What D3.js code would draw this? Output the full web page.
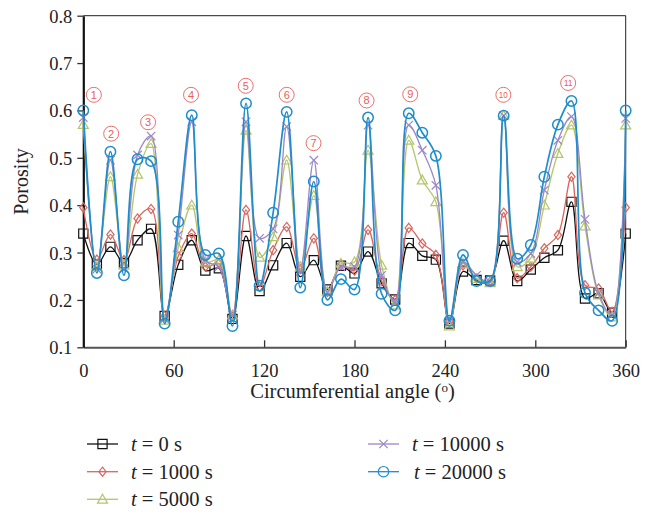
<!DOCTYPE html>
<meta charset="utf-8">
<style>
body { margin: 0; background: #fff; }
svg { font-family: "Liberation Serif", "DejaVu Serif", serif; }
</style>
<body>
<svg width="658" height="512"></svg>
<script src="https://cdn.jsdelivr.net/npm/d3@7"></script>
<script>
// circumferential angles (deg)
var angles = [0, 9, 18, 27, 36, 45, 54, 63, 72, 81, 90, 99, 108, 117, 126, 135, 144, 153, 162, 171,
  180, 189, 198, 207, 216, 225, 234, 243, 252, 261, 270, 279, 288, 297, 306, 315, 324, 333, 342, 351, 360];

var t0 = [0.34, 0.275, 0.312, 0.278, 0.326, 0.35, 0.166, 0.274, 0.326, 0.262, 0.267, 0.16, 0.335, 0.219,
  0.273, 0.32, 0.249, 0.284, 0.222, 0.272, 0.256, 0.302, 0.235, 0.201, 0.32, 0.293, 0.285, 0.15, 0.26,
  0.242, 0.241, 0.325, 0.24, 0.264, 0.289, 0.305, 0.407, 0.203, 0.214, 0.173, 0.34];
var t1000 = [0.395, 0.285, 0.338, 0.284, 0.372, 0.392, 0.166, 0.292, 0.34, 0.27, 0.277, 0.165, 0.39, 0.228,
  0.305, 0.354, 0.265, 0.33, 0.217, 0.273, 0.262, 0.348, 0.24, 0.2, 0.352, 0.319, 0.295, 0.154, 0.273,
  0.245, 0.238, 0.384, 0.246, 0.27, 0.309, 0.337, 0.46, 0.231, 0.224, 0.175, 0.395];
var t5000 = [0.57, 0.27, 0.46, 0.273, 0.465, 0.53, 0.157, 0.31, 0.40, 0.28, 0.284, 0.168, 0.558, 0.29,
  0.333, 0.495, 0.27, 0.42, 0.217, 0.277, 0.28, 0.516, 0.273, 0.189, 0.537, 0.453, 0.407, 0.145, 0.277,
  0.245, 0.236, 0.589, 0.27, 0.288, 0.40, 0.509, 0.569, 0.356, 0.21, 0.164, 0.569];
var t10000 = [0.585, 0.265, 0.495, 0.266, 0.506, 0.546, 0.16, 0.337, 0.576, 0.284, 0.27, 0.168, 0.576, 0.33,
  0.35, 0.566, 0.26, 0.495, 0.217, 0.27, 0.27, 0.569, 0.252, 0.196, 0.569, 0.516, 0.442, 0.155, 0.28,
  0.252, 0.238, 0.589, 0.28, 0.298, 0.432, 0.537, 0.587, 0.37, 0.214, 0.168, 0.583];
var t20000 = [0.60, 0.257, 0.513, 0.252, 0.497, 0.493, 0.15, 0.365, 0.59, 0.295, 0.298, 0.145, 0.615, 0.23,
  0.384, 0.597, 0.226, 0.45, 0.2, 0.244, 0.222, 0.585, 0.213, 0.178, 0.594, 0.553, 0.504, 0.156, 0.295,
  0.24, 0.24, 0.589, 0.287, 0.316, 0.46, 0.57, 0.62, 0.215, 0.178, 0.156, 0.60];

var seriesNames = ["0", "1000", "5000", "10000", "20000"];
var seriesValues = [t0, t1000, t5000, t10000, t20000];
var seriesColors = ["#111111", "#d9665e", "#b3c66a", "#9b86c9", "#1d8dcb"];
var seriesMarkers = ["square", "diamond", "triangle", "times", "circle"];

var xTicks = [0, 60, 120, 180, 240, 300, 360];
var yTicks = [0.1, 0.2, 0.3, 0.4, 0.5, 0.6, 0.7, 0.8];

// circled zone labels: [number, angle, porosity]
var zoneLabels = [[1, 7, 0.633], [2, 18.5, 0.551], [3, 43, 0.575], [4, 71.5, 0.633], [5, 107.8, 0.652],
  [6, 135, 0.633], [7, 152.8, 0.531], [8, 188, 0.621], [9, 217, 0.634], [10, 278.8, 0.633], [11, 321.8, 0.658]];

var serif = "'Liberation Serif', 'DejaVu Serif', serif";
var svg = d3.select("svg");
var x = d3.scaleLinear().domain([0, 360]).range([83.3, 625.7]);
var y = d3.scaleLinear().domain([0.1, 0.8]).range([347.3, 15.7]);

// frame (top + right)
svg.append("path")
  .attr("d", "M" + x(0) + "," + y(0.8) + "H" + x(360) + "V" + y(0.1))
  .attr("fill", "none").attr("stroke", "#222").attr("stroke-width", 1);

var gx = svg.append("g")
  .attr("transform", "translate(0," + y(0.1) + ")")
  .call(d3.axisBottom(x).tickValues(xTicks).tickSizeInner(-7).tickSizeOuter(0).tickPadding(17));
gx.attr("font-family", null).attr("font-size", null);
gx.select(".domain").attr("stroke", "#555").attr("stroke-width", 2);
gx.selectAll(".tick line").attr("stroke", "#333").attr("stroke-width", 1.3);
gx.selectAll(".tick text").style("font-family", serif).style("font-size", "18.5px").attr("fill", "#222");

var gy = svg.append("g")
  .attr("transform", "translate(" + x(0) + ",0)")
  .call(d3.axisLeft(y).tickValues(yTicks).tickFormat(d3.format(".1f")).tickSizeInner(6).tickSizeOuter(0).tickPadding(5));
gy.attr("font-family", null).attr("font-size", null);
gy.select(".domain").attr("stroke", "#111").attr("stroke-width", 2.2);
gy.selectAll(".tick line").attr("stroke", "#333").attr("stroke-width", 1.3);
gy.selectAll(".tick text").attr("dy", "0.35em")
  .style("font-family", serif).style("font-size", "18.5px").attr("fill", "#222");

svg.append("text")
  .attr("transform", "translate(28," + y(0.45) + ") rotate(-90)")
  .attr("text-anchor", "middle")
  .style("font-size", "20px").attr("fill", "#222")
  .text("Porosity");

var xt = svg.append("text")
  .attr("x", (x(0) + x(360)) / 2 - 2).attr("y", 398)
  .attr("text-anchor", "middle")
  .style("font-size", "20.5px").attr("fill", "#222");
xt.append("tspan").text("Circumferential angle (");
xt.append("tspan").attr("dy", -6).style("font-size", "13px").text("o");
xt.append("tspan").attr("dy", 6).text(")");

function markerPath(type) {
  if (type === "square") return "M-4.6,-4.6H4.6V4.6H-4.6Z";
  if (type === "diamond") return "M0,-4.6L3.6,0L0,4.6L-3.6,0Z";
  if (type === "triangle") return "M0,-5L5,3.8H-5Z";
  if (type === "times") return "M-4.2,-4.2L4.2,4.2M-4.2,4.2L4.2,-4.2";
  return d3.symbol().type(d3.symbolCircle).size(85)();
}

var line = d3.line()
  .x(function(d) { return x(d[0]); })
  .y(function(d) { return y(d[1]); })
  .curve(d3.curveCatmullRom.alpha(0.5));

seriesValues.forEach(function(vals, i) {
  var pts = angles.map(function(a, j) { return [a, vals[j]]; });
  var g = svg.append("g");
  g.append("path").datum(pts)
    .attr("d", line)
    .attr("fill", "none")
    .attr("stroke", seriesColors[i])
    .attr("stroke-width", i === 4 ? 1.7 : 1.3);
  g.selectAll("path.m").data(pts).enter().append("path")
    .attr("class", "m")
    .attr("transform", function(d) { return "translate(" + x(d[0]) + "," + y(d[1]) + ")"; })
    .attr("d", markerPath(seriesMarkers[i]))
    .attr("fill", "none")
    .attr("stroke", seriesColors[i])
    .attr("stroke-width", i === 4 ? 1.5 : 1.2);
});

// zone labels
var zl = svg.selectAll("g.zone").data(zoneLabels).enter().append("g")
  .attr("class", "zone")
  .attr("transform", function(d) { return "translate(" + x(d[1]) + "," + y(d[2]) + ")"; });
zl.append("circle").attr("r", 7.5).attr("fill", "none").attr("stroke", "#e8605c").attr("stroke-width", 0.9);
zl.append("text")
  .attr("text-anchor", "middle").attr("dy", "0.35em")
  .style("font-family", "'Liberation Sans', sans-serif")
  .style("font-size", function(d) { return d[0] > 9 ? "9px" : "11px"; })
  .attr("fill", "#e8605c")
  .attr("textLength", function(d) { return d[0] > 9 ? 9 : null; })
  .attr("lengthAdjust", "spacingAndGlyphs")
  .text(function(d) { return d[0]; });

// legend
var legendPos = [[87, 444], [87, 471.7], [87, 499.3], [368, 444], [368, 471.7]];
seriesNames.forEach(function(name, i) {
  var p = legendPos[i];
  var lg = svg.append("g").attr("transform", "translate(" + p[0] + "," + p[1] + ")");
  lg.append("line").attr("x1", 0).attr("x2", 31).attr("y1", 0).attr("y2", 0)
    .attr("stroke", seriesColors[i]).attr("stroke-width", 1.3);
  lg.append("path").attr("transform", "translate(15.5,0)")
    .attr("d", markerPath(seriesMarkers[i]))
    .attr("fill", "none").attr("stroke", seriesColors[i]).attr("stroke-width", 1.2);
  var tx = lg.append("text").attr("x", 44 + (i === 4 ? 2 : 0)).attr("y", 7)
    .style("font-size", "20.5px").attr("fill", "#222");
  tx.append("tspan").style("font-style", "italic").text("t");
  tx.append("tspan").text(" = " + name + " s");
});
</script>
</body>
